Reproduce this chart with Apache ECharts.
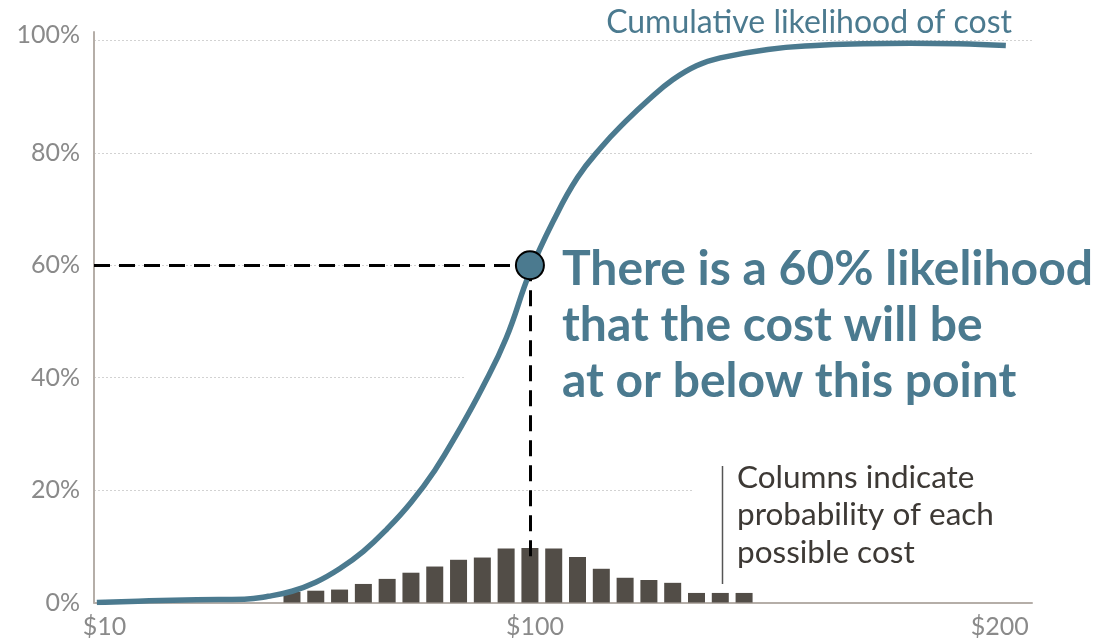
<!DOCTYPE html>
<html>
<head>
<meta charset="utf-8">
<script src="https://cdn.jsdelivr.net/npm/echarts@6/dist/echarts.min.js"></script>
<style>
html,body{margin:0;padding:0;background:#fff;}
#chart{width:1107px;height:642px;}
</style>
</head>
<body>
<div id="chart"></div>
<script>
// Column (probability) data: cost ($) and probability (%)
const barCosts = [50,55,60,65,70,75,80,85,90,95,100,105,110,115,120,125,130,135,140,145];
const barProbs = [1.9,2.1,2.3,3.3,4.2,5.3,6.4,7.6,8.0,9.6,9.7,9.6,8.1,6.0,4.4,4.0,3.5,1.7,1.7,1.7];

// Cumulative likelihood curve: cost ($) and cumulative (%)
const curveCosts = [9,20,30,40,45,50,55,60,65,70,75,80,85,90,95,100,105,110,115,120,125,130,135,140,150,160,170,180,190,200];
const curveCum   = [0,0.3,0.5,0.6,1.1,2.0,3.6,6.0,9.1,13.1,17.8,23.5,30.5,38.2,47.0,58.8,68.0,75.6,81.0,85.5,89.5,93.0,95.5,96.9,98.4,99.1,99.4,99.5,99.4,99.1];

// Axis ticks
const yTicks = [0,20,40,60,80,100];
const xTickValues = [10,100,200];

// Highlighted point
const markCost = 100;
const markPct = 60;
const dashEndPct = 6.7;

const X_MIN = 8.4, X_MAX = 205.5;

const teal = '#4b7a8f';
const barColor = '#524d47';
const axisColor = '#b5aea8';
const labelGray = '#8a8a8a';
const FONT = 'Lato';

const chart = echarts.init(document.getElementById('chart'), null, {renderer: 'canvas'});

const option = {
  animation: false,
  backgroundColor: '#ffffff',
  grid: {left: 94, right: 75, top: 32, bottom: 39.5, containLabel: false},
  xAxis: {
    type: 'value',
    min: X_MIN,
    max: X_MAX,
    axisLine: {show: true, lineStyle: {color: axisColor, width: 2}},
    axisTick: {show: false},
    splitLine: {show: false},
    axisLabel: {
      customValues: xTickValues,
      formatter: v => v === 10 ? '{a|$' + v + '}' : (v === 200 ? '{c|$' + v + '}' : '{b|$' + v + '}'),
      color: labelGray,
      fontFamily: FONT,
      fontSize: 25,
      margin: 12,
      rich: {
        a: {color: labelGray, fontFamily: FONT, fontSize: 25, padding: [0, 0, 0, 6]},
        b: {color: labelGray, fontFamily: FONT, fontSize: 25, padding: [0, 0, 0, 10]},
        c: {color: labelGray, fontFamily: FONT, fontSize: 25, padding: [0, 12, 0, 0]}
      }
    }
  },
  yAxis: {
    type: 'value',
    min: 0,
    max: 101.5,
    interval: 20,
    axisLine: {show: true, lineStyle: {color: axisColor, width: 2}},
    axisTick: {show: false},
    splitLine: {show: true, showMinLine: false, showMaxLine: false, lineStyle: {color: '#d2d2d2', width: 1, type: [2, 2]}},
    axisLabel: {
      showMaxLabel: false,
      formatter: v => (v === 100 ? '{t|' + v + '%}' : (yTicks.indexOf(v) >= 0 ? v + '%' : '')),
      color: labelGray,
      fontFamily: FONT,
      fontSize: 25,
      margin: 14,
      rich: {
        t: {color: labelGray, fontFamily: FONT, fontSize: 25, padding: [0, 0, 10, 0]}
      }
    }
  },
  graphic: [
    // white panels behind annotation text (hide gridlines there)
    {type: 'rect', z: 1, shape: {x: 466, y: 232, width: 570, height: 175}, style: {fill: '#fff'}, silent: true},
    {type: 'rect', z: 1, shape: {x: 693, y: 455, width: 343, height: 130}, style: {fill: '#fff'}, silent: true},
    {type: 'text', z: 20, x: 1012, y: 23, style: {text: 'Cumulative likelihood of cost', fill: teal, font: '32px Lato', align: 'right', verticalAlign: 'middle'}},
    {type: 'text', z: 20, x: 562, y: 326, style: {text: 'There is a 60% likelihood\nthat the cost will be\nat or below this point', fill: teal, font: 'bold 48px Lato', lineHeight: 56, align: 'left', verticalAlign: 'middle'}},
    {type: 'text', z: 20, x: 737, y: 515, style: {text: 'Columns indicate\nprobability of each\npossible cost', fill: '#3d3935', font: '31.5px Lato', lineHeight: 37.5, align: 'left', verticalAlign: 'middle'}},
    {type: 'line', z: 20, shape: {x1: 722.5, y1: 466, x2: 722.5, y2: 584}, style: {stroke: '#555', lineWidth: 1.5}}
  ],
  series: [
    {
      type: 'bar',
      z: 3,
      barWidth: 17,
      itemStyle: {color: barColor},
      emphasis: {disabled: true},
      data: barCosts.map((c, i) => [c, barProbs[i]])
    },
    {
      type: 'line',
      z: 4,
      smooth: 0.45,
      showSymbol: false,
      symbol: 'none',
      lineStyle: {color: teal, width: 5.5},
      emphasis: {disabled: true},
      data: curveCosts.map((c, i) => [c, curveCum[i]])
    },
    {
      type: 'scatter',
      z: 6,
      symbolSize: 28,
      itemStyle: {color: teal, opacity: 1, borderColor: '#000', borderWidth: 2},
      emphasis: {disabled: true},
      data: [[markCost, markPct]],
      markLine: {
        silent: true,
        symbol: ['none', 'none'],
        z: 5,
        lineStyle: {color: '#000', width: 3, type: [16, 9]},
        label: {show: false},
        emphasis: {disabled: true},
        data: [
          [{coord: [X_MIN, markPct]}, {coord: [markCost, markPct]}],
          [{coord: [markCost, markPct]}, {coord: [markCost, dashEndPct]}]
        ]
      }
    }
  ]
};
chart.setOption(option);
</script>
</body>
</html>
